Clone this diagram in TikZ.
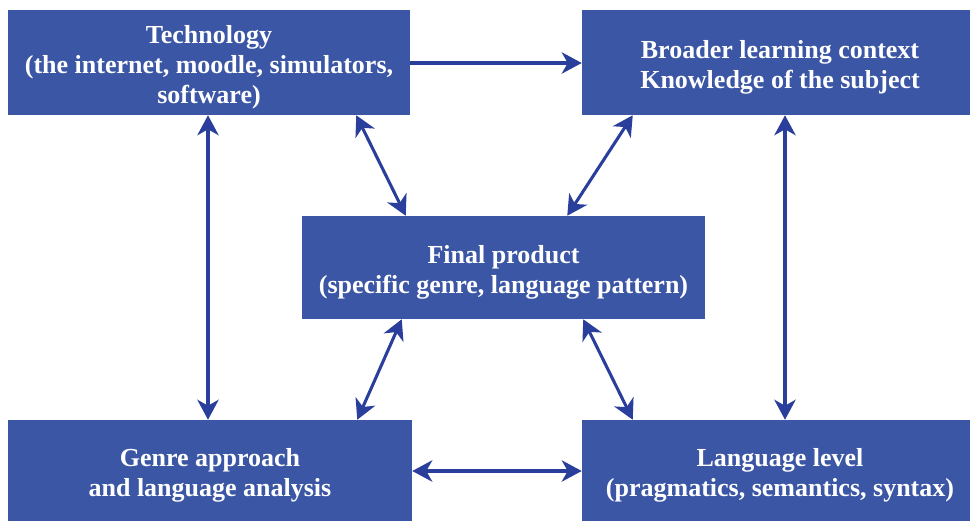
\documentclass[tikz,border=0pt]{standalone}
\usepackage{fontspec}
\setmainfont{Liberation Serif}
\usetikzlibrary{arrows.meta}
\definecolor{boxblue}{RGB}{59,86,165}
\definecolor{arrowblue}{RGB}{42,62,156}
\newcommand{\px}{0.75pt}
\newcommand{\topgap}{\rule{0pt}{21pt}}
\begin{document}
\begin{tikzpicture}[
    x=0.75pt, y=-0.75pt,
    block/.style={rectangle, fill=boxblue, text=white, align=center, inner sep=0pt,
      font=\bfseries\fontsize{19.5}{22.5}\selectfont},
    link/.style={draw=arrowblue, line width=2.3pt,
      -{Stealth[length=15pt, width=16pt, inset=4.5pt]}},
    both/.style={link, {Stealth[length=15pt, width=16pt, inset=4.5pt]}-{Stealth[length=15pt, width=16pt, inset=4.5pt]}}
  ]
  \useasboundingbox (0,0) rectangle (970,521);

  % Define blocks
  \node[block, minimum width=402*\px, minimum height=105*\px] (tech) at (209,62.5)
    {\topgap Technology\\(the internet, moodle, simulators,\\software)};
  \node[block, minimum width=396*\px, minimum height=105*\px] (broad) at (780,62.5)
    {\topgap Broader learning context\\Knowledge of the subject};
  \node[block, minimum width=403*\px, minimum height=103*\px] (final) at (503.5,267.5)
    {\topgap Final product\\(specific genre, language pattern)};
  \node[block, minimum width=404*\px, minimum height=101*\px] (genre) at (210,470.5)
    {\topgap Genre approach\\and language analysis};
  \node[block, minimum width=396*\px, minimum height=101*\px] (lang) at (780,470.5)
    {\topgap Language level\\(pragmatics, semantics, syntax)};

  % Draw arrows
  \draw[link] (tech.east |- 0,63) -- (broad.west |- 0,63);
  \draw[both] ([xshift=-1*\px]tech.south) -- ([xshift=-2*\px]genre.north);
  \draw[both] ([xshift=5*\px]broad.south) -- ([xshift=5*\px]lang.north);
  \draw[both] ([xshift=-54*\px]tech.south east) -- ([xshift=104*\px]final.north west);
  \draw[both] ([xshift=51*\px]broad.south west) -- ([xshift=-138*\px]final.north east);
  \draw[both] ([xshift=100*\px]final.south west) -- ([xshift=-55*\px]genre.north east);
  \draw[both] ([xshift=-122*\px]final.south east) -- ([xshift=51*\px]lang.north west);
  \draw[both] (genre.east |- 0,471) -- (lang.west |- 0,471);
\end{tikzpicture}
\end{document}
